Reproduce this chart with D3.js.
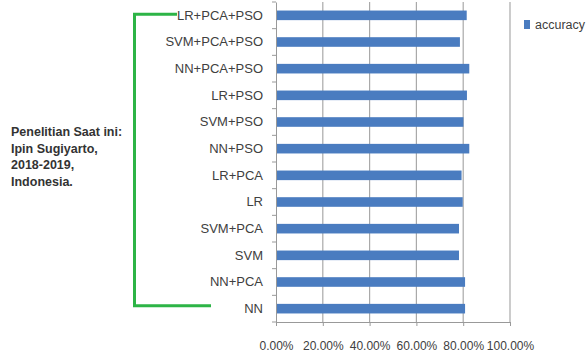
<!DOCTYPE html>
<html><head><meta charset="utf-8">
<script src="https://cdn.jsdelivr.net/npm/d3@7"></script>
<style>body{margin:0;background:#fff;} svg{display:block;}</style>
</head><body>
<script>
const categories = ["LR+PCA+PSO","SVM+PCA+PSO","NN+PCA+PSO","LR+PSO","SVM+PSO","NN+PSO","LR+PCA","LR","SVM+PCA","SVM","NN+PCA","NN"];
const accuracy = [0.815, 0.786, 0.826, 0.816, 0.801, 0.826, 0.793, 0.798, 0.782, 0.782, 0.808, 0.808];
const xTicks = [0, 0.2, 0.4, 0.6, 0.8, 1.0];
const seriesName = "accuracy";
const noteLines = ["Penelitian Saat ini:", "Ipin Sugiyarto,", "2018-2019,", "Indonesia."];

(function(){
const W = 587, H = 356;
const svg = d3.select("body").append("svg").attr("width", W).attr("height", H);
const pL = 276, pR = 510, pT = 2, pB = 322;
const font = "'Liberation Sans',Arial,sans-serif";
const x = d3.scaleLinear().domain([0, 1]).range([pL, pR]);
const y = d3.scaleBand().domain(categories).range([pT, pB]).paddingInner(0.64).paddingOuter(0.32);
const yb = d3.scaleBand().domain(categories).range([pT, pB]);

// gridlines
svg.append("g").selectAll("line").data(xTicks.filter(t => t > 0)).join("line")
  .attr("x1", d => x(d)).attr("x2", d => x(d)).attr("y1", pT).attr("y2", pB)
  .attr("stroke", "#a9a9a9").attr("stroke-width", 1.2);

// bars
svg.append("g").selectAll("rect").data(categories).join("rect")
  .attr("x", pL).attr("y", d => y(d)).attr("height", y.bandwidth())
  .attr("width", (d, i) => x(accuracy[i]) - pL)
  .attr("fill", "#4a7cc0");

// x axis
const xAxis = d3.axisBottom(x).tickValues(xTicks).tickSize(4).tickFormat(d3.format(".2%"));
const gx = svg.append("g").attr("transform", `translate(0,${pB})`).call(xAxis);
gx.select(".domain").attr("stroke", "#999");
gx.selectAll(".tick line").attr("stroke", "#999");
gx.selectAll("text").attr("font-family", font)
  .attr("font-size", "12px").attr("fill", "#404040").attr("dy", "1.75em");

// y axis
const yAxis = d3.axisLeft(yb).tickSize(0).tickPadding(13);
const gy = svg.append("g").attr("transform", `translate(${pL},0)`).call(yAxis);
gy.select(".domain").attr("stroke", "#999");
gy.selectAll("text").attr("font-family", font)
  .attr("font-size", "13px").attr("fill", "#404040");
// band boundary ticks
svg.append("g").selectAll("line").data(d3.range(categories.length + 1)).join("line")
  .attr("x1", pL - 4).attr("x2", pL)
  .attr("y1", i => pT + i * yb.step()).attr("y2", i => pT + i * yb.step())
  .attr("stroke", "#999");

// legend
svg.append("rect").attr("x", 524).attr("y", 20).attr("width", 6).attr("height", 9).attr("fill", "#4a7cc0");
svg.append("text").attr("x", 535).attr("y", 29).text(seriesName)
  .attr("font-family", font).attr("font-size", "12.5px").attr("fill", "#404040");

// bracket
const yTop = y(categories[0]) + y.bandwidth() / 2 - 1;
const yBot = y(categories[categories.length - 1]) + y.bandwidth() / 2 - 3;
svg.append("path")
  .attr("d", `M177,${yTop} H134.5 V${yBot} H211`)
  .attr("fill", "none").attr("stroke", "#2db446").attr("stroke-width", 3);

// note
svg.append("g").selectAll("text").data(noteLines).join("text")
  .attr("x", 11).attr("y", (d, i) => 136 + i * 16.7).text(d => d)
  .attr("font-family", font)
  .attr("font-weight", "bold").attr("font-size", "12.5px").attr("fill", "#333");
})();
</script>
</body></html>
